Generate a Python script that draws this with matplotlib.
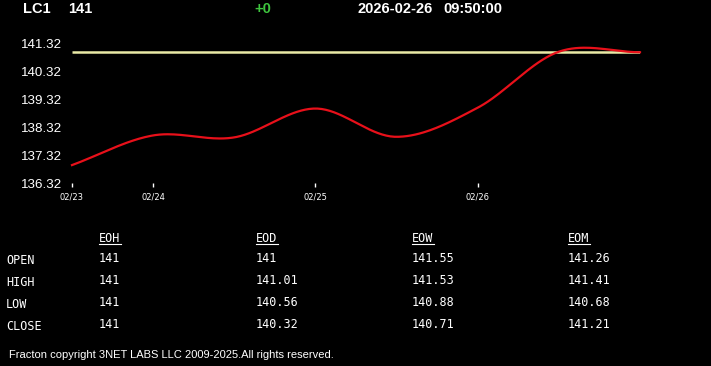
import matplotlib
matplotlib.use('Agg')
import matplotlib.pyplot as plt
from matplotlib.lines import Line2D
import numpy as np

# header
symbol = 'LC1'
last_price = 141
change = '+0'
date_str = '2026-02-26'
time_str = '09:50:00'

# price curve, one label per point ('' = no tick)
point_days = ['02/23', '02/24', '', '02/25', '', '02/26', '', '']
prices = [136.97, 138.03, 137.96, 138.99, 137.98, 139.02, 141.02, 141.0]
y_ticks = [136.32, 137.32, 138.32, 139.32, 140.32, 141.32]

# summary table
table_cols = ['EOH', 'EOD', 'EOW', 'EOM']
table_rows = ['OPEN', 'HIGH', 'LOW', 'CLOSE']
eoh = ['141', '141', '141', '141']
eod = ['141', '141.01', '140.56', '140.32']
eow = ['141.55', '141.53', '140.88', '140.71']
eom = ['141.26', '141.41', '140.68', '141.21']

footer = 'Fracton copyright 3NET LABS LLC 2009-2025.All rights reserved.'

W, H = 711, 366


def px(x, y):
    return x / W, 1 - y / H


def catmull(vals, n=40):
    ''' cardinal spline through the points, only for drawing '''
    p = np.asarray(vals, dtype=float)
    m = np.empty_like(p)
    m[1:-1] = (p[2:] - p[:-2]) / 2
    m[0] = p[1] - p[0]
    m[-1] = 0.0
    xs, ys = [], []
    t = np.linspace(0, 1, n)
    h00 = 2*t**3 - 3*t**2 + 1
    h10 = t**3 - 2*t**2 + t
    h01 = -2*t**3 + 3*t**2
    h11 = t**3 - t**2
    for i in range(len(p) - 1):
        xs.append(i + t)
        ys.append(h00*p[i] + h10*m[i] + h01*p[i+1] + h11*m[i+1])
    return np.concatenate(xs), np.concatenate(ys)


fig = plt.figure(figsize=(W/100, H/100), dpi=100, facecolor='black')

left, right = 72, 640
top, bottom = 43.3, 183.3
ax = fig.add_axes([left/W, 1 - bottom/H, (right-left)/W, (bottom-top)/H])
ax.set_facecolor('black')
for s in ax.spines.values():
    s.set_visible(False)

n = len(prices)
ax.plot([0, n-1], [last_price, last_price], color='#eaeaa6', lw=1.8, solid_capstyle='butt')
cx, cy = catmull(prices)
ax.plot(cx, cy, color='#e8101a', lw=1.6, clip_on=False)

ax.set_xlim(0, n-1)
ax.set_ylim(y_ticks[0], y_ticks[-1])

ticks = [i for i, d in enumerate(point_days) if d]
ax.set_xticks(ticks)
ax.set_xticklabels([point_days[i] for i in ticks], family='DejaVu Sans', fontsize=6, color='white')
ax.tick_params(axis='x', colors='white', length=3, width=1, pad=3.5, direction='out')
ax.set_yticks(y_ticks)
ax.set_yticklabels(['%.2f' % v for v in y_ticks], family='Liberation Sans', fontsize=9.6, color='white')
ax.tick_params(axis='y', length=0, pad=7.5)

# header line
hdr = dict(family='Liberation Sans', fontsize=10.5, fontweight='bold', va='center', ha='left')
fig.text(*px(23, 9), symbol, color='white', **hdr)
fig.text(*px(68, 9), str(last_price), color='white', **hdr)
fig.text(*px(254, 9), change, color='#3ec43e', **hdr)
fig.text(*px(358, 9), date_str, color='white', **hdr)
fig.text(*px(443.5, 9), time_str, color='white', **hdr)

# table
mono = dict(family='DejaVu Sans Mono', fontsize=8.5, color='white', va='center', ha='left')
col_x = [99, 256, 412, 568]
row_y = [258, 280, 302, 324]
for cx_, name, vals in zip(col_x, table_cols, [eoh, eod, eow, eom]):
    fig.text(*px(cx_, 238.5), name, **mono)
    fig.add_artist(Line2D([cx_/W, (cx_+22)/W], [1 - 244/H, 1 - 244/H], color='white', lw=0.8))
    for ry, v in zip(row_y, vals):
        fig.text(*px(cx_, ry), v, **mono)
for ry, name in zip(row_y, table_rows):
    fig.text(*px(6, ry + 2), name, **mono)

fig.text(*px(9, 355), footer, family='Liberation Sans', fontsize=8, color='white', va='center', ha='left')

fig.savefig('out.png', dpi=100, facecolor='black')
